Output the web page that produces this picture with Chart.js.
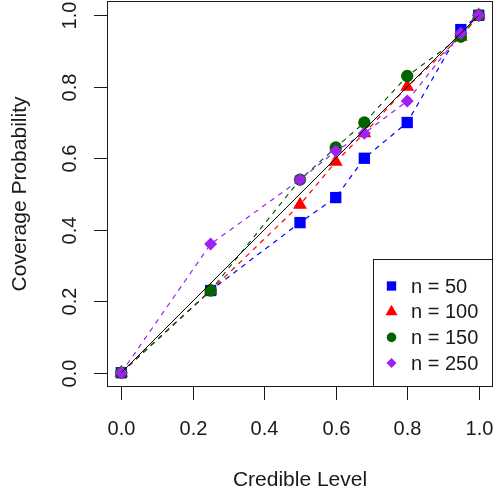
<!DOCTYPE html>
<html>
<head>
<meta charset="utf-8">
<script src="https://cdn.jsdelivr.net/npm/chart.js@4/dist/chart.umd.min.js"></script>
<style>
    html, body { margin: 0; padding: 0; background: #fff; }
    #wrap { width: 495px; height: 493px; }
</style>
</head>
<body>
<div id="wrap"><canvas id="chart" width="495" height="493"></canvas></div>
<script>
// credible levels (x) and observed coverage for each sample size
const levels = [0, 0.25, 0.5, 0.6, 0.68, 0.8, 0.95, 1.0];
const n50  = [0, 0.23, 0.42, 0.49, 0.60, 0.70, 0.96, 1.0];
const n100 = [0, 0.23, 0.47, 0.59, 0.67, 0.80, 0.94, 1.0];
const n150 = [0, 0.23, 0.54, 0.63, 0.70, 0.83, 0.94, 1.0];
const n250 = [0, 0.36, 0.54, 0.62, 0.67, 0.76, 0.95, 1.0];

// reference line y = x
const diagX = [0, 1];
const diagY = [0, 1];

const tickValues = [0, 0.2, 0.4, 0.6, 0.8, 1.0];
const tickLabels = ['0.0', '0.2', '0.4', '0.6', '0.8', '1.0'];
const seriesNames = ['n = 50', 'n = 100', 'n = 150', 'n = 250'];

const FONT = '"Liberation Sans", Arial, sans-serif';
const INK = '#1a1a1a';

const styles = [
    { color: '#0000FF', point: 'rect',     radius: 8, legendRadius: 6.6 },
    { color: '#FF0000', point: 'triangle', radius: 8, legendRadius: 7 },
    { color: '#006400', point: 'circle',   radius: 6.2, legendRadius: 4.8 },
    { color: '#A020F0', point: 'rectRot',  radius: 6.5, legendRadius: 5 }
];
const seriesValues = [n50, n100, n150, n250];

function toPoints(xs, ys) {
    return xs.map((x, i) => ({ x: x, y: ys[i] }));
}

const datasets = seriesValues.map((vals, i) => ({
    label: seriesNames[i],
    data: toPoints(levels, vals),
    showLine: true,
    borderColor: styles[i].color,
    borderWidth: 1.2,
    borderDash: [5, 5],
    pointStyle: styles[i].point,
    pointRadius: styles[i].radius,
    pointBackgroundColor: styles[i].color,
    pointBorderWidth: 0,
    order: 4 - i
}));

datasets.push({
    label: 'y = x',
    data: toPoints(diagX, diagY),
    showLine: true,
    borderColor: '#000',
    borderWidth: 1,
    pointRadius: 0,
    order: 0
});

// R-style box, outward ticks, rotated y labels, axis titles and legend
const rAxes = {
    id: 'rAxes',
    afterDraw(chart) {
        const { ctx, chartArea: a, scales: { x, y } } = chart;
        ctx.save();
        ctx.strokeStyle = INK;
        ctx.fillStyle = INK;
        ctx.lineWidth = 1;
        ctx.setLineDash([]);

        ctx.strokeRect(a.left + 0.5, a.top + 0.5, a.right - a.left - 1, a.bottom - a.top - 1);

        const tickLen = 13;
        ctx.font = '20px ' + FONT;
        ctx.textAlign = 'center';
        ctx.textBaseline = 'middle';

        tickValues.forEach((v, i) => {
            const px = Math.round(x.getPixelForValue(v)) + 0.5;
            ctx.beginPath();
            ctx.moveTo(px, a.bottom);
            ctx.lineTo(px, a.bottom + tickLen);
            ctx.stroke();
            ctx.fillText(tickLabels[i], px, a.bottom + 42);
        });

        tickValues.forEach((v, i) => {
            const py = Math.round(y.getPixelForValue(v)) + 0.5;
            ctx.beginPath();
            ctx.moveTo(a.left, py);
            ctx.lineTo(a.left - tickLen, py);
            ctx.stroke();
            ctx.save();
            ctx.translate(a.left - 37, py);
            ctx.rotate(-Math.PI / 2);
            ctx.fillText(tickLabels[i], 0, 0);
            ctx.restore();
        });

        ctx.font = '21px ' + FONT;
        ctx.fillText('Credible Level', (a.left + a.right) / 2, a.bottom + 93);
        ctx.save();
        ctx.translate(20, (a.top + a.bottom) / 2);
        ctx.rotate(-Math.PI / 2);
        ctx.fillText('Coverage Probability', 0, 0);
        ctx.restore();

        // legend, bottom right
        const boxW = 120, boxH = 128, rowH = 25.7;
        const bx = a.right - boxW, by = a.bottom - boxH;
        ctx.fillStyle = '#fff';
        ctx.fillRect(bx, by, boxW, boxH);
        ctx.strokeStyle = INK;
        ctx.strokeRect(bx + 0.5, by + 0.5, boxW - 1, boxH - 1);
        ctx.font = '20px ' + FONT;
        ctx.textAlign = 'left';
        seriesNames.forEach((name, i) => {
            const ry = by + 27 + i * rowH;
            ctx.fillStyle = styles[i].color;
            Chart.helpers.drawPoint(ctx, {
                pointStyle: styles[i].point,
                radius: styles[i].legendRadius,
                rotation: 0,
                borderWidth: 0
            }, bx + 18.5, ry);
            ctx.fillStyle = INK;
            ctx.fillText(name, bx + 38, ry + 1);
        });
        ctx.restore();
    }
};

new Chart(document.getElementById('chart'), {
    type: 'scatter',
    data: { datasets: datasets },
    options: {
        responsive: false,
        animation: false,
        devicePixelRatio: 1,
        events: [],
        layout: {
            autoPadding: false,
            padding: { left: 107, right: 2, top: 1, bottom: 106 }
        },
        plugins: {
            legend: { display: false },
            tooltip: { enabled: false }
        },
        scales: {
            x: { type: 'linear', min: -0.04, max: 1.04, display: false },
            y: { type: 'linear', min: -0.04, max: 1.04, display: false }
        }
    },
    plugins: [rAxes]
});
</script>
</body>
</html>
